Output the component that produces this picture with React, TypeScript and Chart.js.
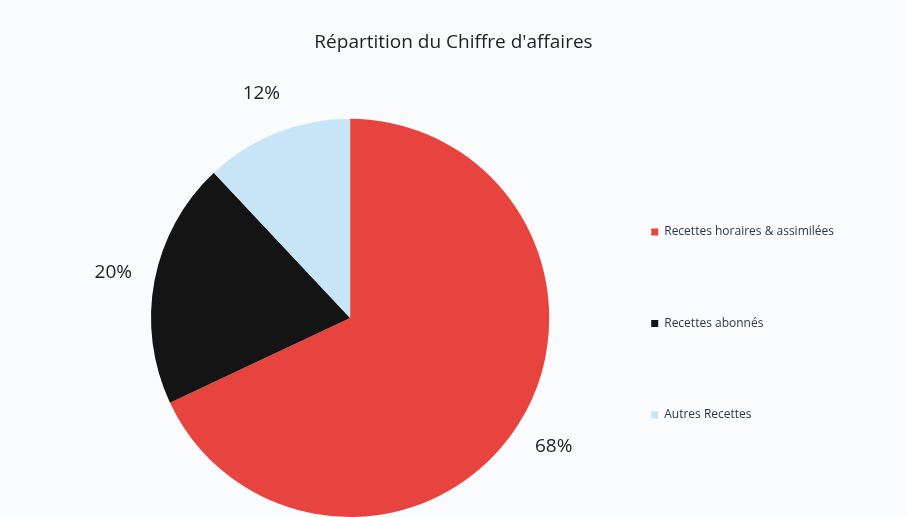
import React, { useEffect, useRef } from "react";
import { Chart, registerables } from "chart.js";

Chart.register(...registerables);

const titleText = "Répartition du Chiffre d'affaires";
const categories = ["Recettes horaires & assimilées", "Recettes abonnés", "Autres Recettes"];
const shares = [68, 20, 12];
const colors = ["#E8443F", "#141414", "#C8E5F7"];

const FONT = "'Open Sans', Lato, sans-serif";

const bgPlugin = {
  id: "bg",
  beforeDraw(chart: any) {
    const { ctx, width, height } = chart;
    ctx.save();
    ctx.fillStyle = "#f9fbfc";
    ctx.fillRect(0, 0, width, height);
    ctx.restore();
  },
};

const outsideLabels = {
  id: "outsideLabels",
  afterDatasetsDraw(chart: any) {
    const { ctx } = chart;
    const meta = chart.getDatasetMeta(0);
    const data = chart.data.datasets[0].data as number[];
    ctx.save();
    ctx.font = `19px ${FONT}`;
    ctx.fillStyle = "#222";
    ctx.textAlign = "center";
    ctx.textBaseline = "middle";
    meta.data.forEach((arc: any, i: number) => {
      const { x, y, startAngle, endAngle, outerRadius } = arc.getProps(
        ["x", "y", "startAngle", "endAngle", "outerRadius"],
        true
      );
      const mid = (startAngle + endAngle) / 2;
      const d = outerRadius + 42;
      ctx.fillText(`${data[i]}%`, x + Math.cos(mid) * d, y + Math.sin(mid) * d);
    });
    ctx.restore();
  },
};

export default function App() {
  const ref = useRef<HTMLCanvasElement>(null);
  useEffect(() => {
    if (!ref.current) return;
    const chart = new Chart(ref.current, {
      type: "pie",
      data: {
        labels: categories,
        datasets: [
          {
            data: shares,
            backgroundColor: colors,
            borderWidth: 0,
          },
        ],
      },
      options: {
        animation: false,
        responsive: true,
        maintainAspectRatio: false,
        layout: { padding: { left: 63, right: 63, top: 0, bottom: 0 } },
        plugins: {
          title: {
            display: true,
            text: titleText,
            color: "#222",
            font: { family: FONT, size: 19, weight: "normal" },
            padding: { top: 31, bottom: 65 },
          },
          legend: {
            position: "right",
            align: "start",
            title: {
              display: true,
              text: "",
              font: { size: 10, lineHeight: 1 },
              padding: { top: 202, bottom: 0 },
            },
            labels: {
              boxWidth: 7,
              boxHeight: 7,
              padding: 14,
              color: "#2a3a44",
              font: { family: FONT, size: 12, lineHeight: "77.5px" },
              generateLabels: () =>
                categories.map((c, i) => ({
                  text: [c],
                  fillStyle: colors[i],
                  strokeStyle: colors[i],
                  lineWidth: 0,
                  hidden: false,
                  index: i,
                  fontColor: "#2a3a44",
                })),
            },
          },
          tooltip: { enabled: false },
        },
      },
      plugins: [bgPlugin, outsideLabels],
    });
    return () => chart.destroy();
  }, []);
  return (
    <div style={{ position: "fixed", left: 0, top: 0, width: "907px", height: "517px", background: "#f9fbfc" }}>
      <canvas ref={ref} />
    </div>
  );
}
